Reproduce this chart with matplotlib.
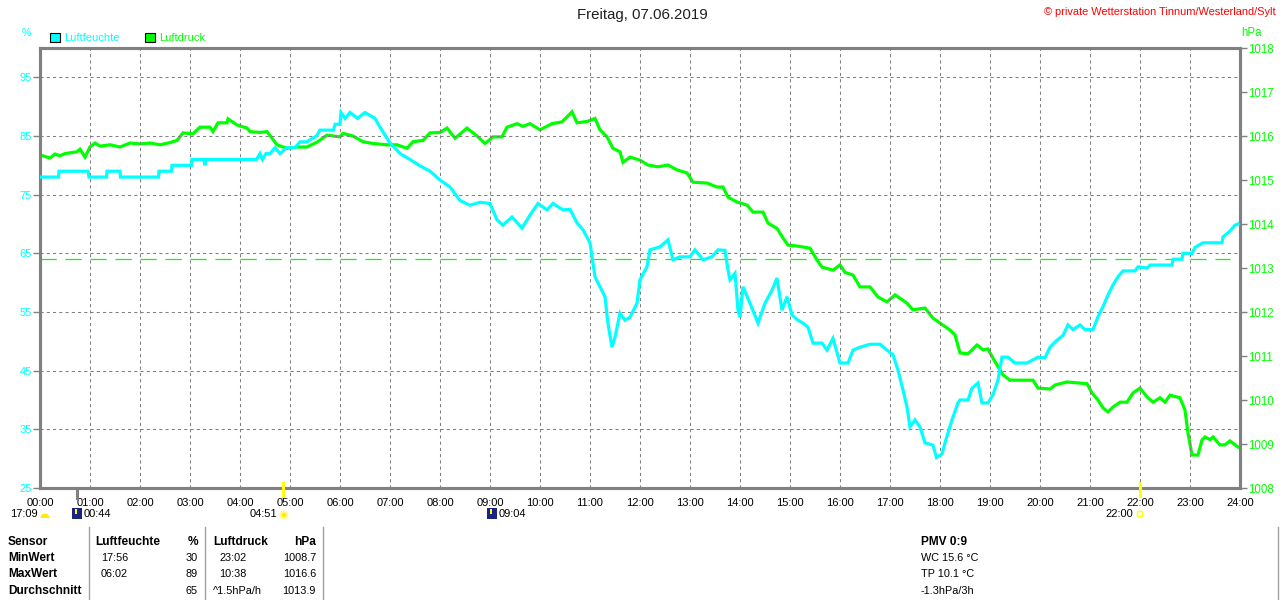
import matplotlib
matplotlib.use("Agg")
import matplotlib.pyplot as plt
from matplotlib.patches import Rectangle, Circle, Wedge
import numpy as np

plt.rcParams['font.family'] = ['Liberation Sans', 'DejaVu Sans']

# ---------------- data ----------------
hum_t = [0.00,0.37,0.38,0.96,0.98,1.33,1.34,1.60,1.61,2.37,2.38,2.63,2.64,3.03,3.04,3.28,3.30,3.32,4.33,4.40,4.45,4.52,4.60,4.70,4.80,4.93,5.10,5.20,5.33,5.53,5.60,5.87,5.90,6.00,
         6.02,6.10,6.20,6.35,6.50,6.70,6.80,7.00,7.20,7.40,7.60,7.80,8.00,8.20,8.40,8.60,8.80,9.00,9.14,9.26,9.44,9.64,9.80,9.96,10.14,10.26,10.46,10.60,10.74,10.86,11.00,11.10,11.20,11.30,11.36,11.44,11.50,11.60,11.70,11.80,11.94,
         12.00,12.14,12.20,12.40,12.56,12.66,12.80,13.00,13.10,13.26,13.44,13.56,13.70,13.76,13.80,13.90,13.96,14.00,14.06,14.20,14.36,14.50,14.64,14.74,14.84,14.94,15.04,15.16,15.26,15.36,15.46,15.64,15.74,15.86,16.00,16.16,16.26,16.40,16.60,16.80,16.94,
         17.06,17.16,17.26,17.34,17.40,17.50,17.60,17.70,17.86,17.93,18.04,18.10,18.24,18.36,18.40,18.56,18.64,18.76,18.84,18.96,19.06,19.16,19.24,19.36,19.50,19.74,19.96,20.10,20.20,20.34,20.46,20.56,20.66,20.80,20.90,21.06,21.16,21.26,21.36,21.46,21.56,21.66,21.90,21.96,
         22.14,22.20,22.64,22.66,22.84,22.86,23.04,23.10,23.26,23.64,23.66,23.80,23.90,23.96]
hum_v = [78,78,79,79,78,78,79,79,78,78,79,79,80,80,81,81,80,81,81,82,81,82,82,83,82,83,83,84,84,85,86,86,87,87,
         89,88,89,88,89,88,86.5,83.8,82,81,79.9,79,77.5,76.3,74,73.2,73.7,73.5,70.7,69.8,71.2,69.3,71.5,73.5,72.4,73.5,72.4,72.5,70.2,69,66.8,61,59.3,57.6,53,49,50.7,54.8,53.6,54.1,56.5,
         60.5,62.7,65.6,66.1,67.3,63.9,64.4,64.4,65.6,63.9,64.4,65.6,65.5,62.2,60.5,61.6,55.3,54.1,59.3,56.5,53.1,56.5,58.7,60.8,55.3,57.6,54.5,53.6,53.1,52.4,49.7,49.7,48.5,50.5,46.3,46.3,48.5,49,49.5,49.5,48.5,
         47.7,45.1,41.7,38.8,35.4,36.6,35.4,32.7,32.3,30.2,30.8,32.7,36.6,39.5,40,40,42,42.9,39.5,39.5,40.9,43.4,47.3,47.3,46.3,46.3,47.3,47.2,49,50.2,51,52.8,52,52.8,52,52,54.2,55.9,57.9,59.6,61,62,62,62.7,
         62.5,63,63,64,64,65,65,66,66.8,66.8,67.8,68.8,69.8,70]

pres_t = [0.00,0.20,0.30,0.40,0.50,0.74,0.80,0.90,1.00,1.10,1.20,1.40,1.60,1.80,2.00,2.20,2.40,2.60,2.74,2.86,3.06,3.20,3.40,3.46,3.56,3.74,3.76,3.94,4.14,4.20,4.40,4.54,4.64,4.74,4.94,5.14,5.34,5.54,5.74,
          6.00,6.06,6.26,6.46,6.66,6.94,7.14,7.34,7.46,7.66,7.80,8.00,8.14,8.30,8.46,8.54,8.74,8.90,9.06,9.24,9.34,9.54,9.66,9.80,10.00,10.24,10.44,10.64,10.74,10.94,11.10,11.20,11.34,11.46,11.60,11.66,11.80,
          12.00,12.16,12.36,12.56,12.74,12.94,13.06,13.34,13.54,13.66,13.76,13.94,14.14,14.26,14.46,14.56,14.74,14.86,14.96,15.14,15.40,15.54,15.64,15.86,16.00,16.10,16.26,16.40,16.60,16.76,16.94,17.10,17.34,17.46,17.70,17.86,
          18.06,18.20,18.30,18.40,18.56,18.74,18.86,18.96,19.06,19.20,19.26,19.40,19.86,19.96,20.20,20.30,20.54,20.74,20.94,21.04,21.16,21.26,21.36,21.46,21.60,21.74,21.86,22.00,22.14,22.26,22.40,22.50,22.60,22.80,22.90,22.96,
          23.04,23.16,23.24,23.30,23.40,23.46,23.60,23.70,23.80,23.96]
pres_v = [1015.57,1015.50,1015.59,1015.55,1015.60,1015.64,1015.70,1015.52,1015.75,1015.84,1015.77,1015.80,1015.75,1015.84,1015.82,1015.84,1015.80,1015.85,1015.90,1016.07,1016.05,1016.20,1016.20,1016.10,1016.30,1016.30,1016.39,1016.25,1016.18,1016.10,1016.08,1016.10,1015.95,1015.80,1015.72,1015.75,1015.75,1015.86,1016.02,
          1015.98,1016.06,1016.00,1015.87,1015.83,1015.80,1015.80,1015.72,1015.87,1015.90,1016.07,1016.08,1016.18,1015.95,1016.10,1016.18,1016.00,1015.83,1015.98,1015.98,1016.20,1016.28,1016.22,1016.28,1016.14,1016.28,1016.32,1016.55,1016.30,1016.33,1016.40,1016.14,1015.98,1015.72,1015.64,1015.40,1015.52,
          1015.45,1015.34,1015.30,1015.34,1015.23,1015.16,1014.95,1014.93,1014.84,1014.84,1014.61,1014.50,1014.43,1014.27,1014.27,1014.02,1013.90,1013.68,1013.52,1013.50,1013.45,1013.18,1013.02,1012.95,1013.07,1012.90,1012.84,1012.57,1012.57,1012.34,1012.23,1012.39,1012.20,1012.05,1012.09,1011.86,
          1011.70,1011.59,1011.48,1011.07,1011.05,1011.25,1011.14,1011.16,1010.95,1010.68,1010.57,1010.45,1010.45,1010.27,1010.25,1010.34,1010.41,1010.39,1010.37,1010.16,1010.00,1009.82,1009.73,1009.84,1009.95,1009.95,1010.16,1010.27,1010.07,1009.95,1010.05,1009.95,1010.11,1010.05,1009.77,1009.25,
          1008.75,1008.75,1009.09,1009.16,1009.10,1009.16,1008.98,1008.98,1009.07,1008.93]

pres_ref = 1013.2
hum_ticks = [25, 35, 45, 55, 65, 75, 85, 95]
pres_ticks = [1008, 1009, 1010, 1011, 1012, 1013, 1014, 1015, 1016, 1017, 1018]
hour_ticks = list(range(25))
hour_labels = [f"{h:02d}:00" for h in hour_ticks]

moon_mark = 44/60          # 00:44
sun_marks = [4 + 51/60, 22.0]   # 04:51, 22:00

title = "Freitag, 07.06.2019"
credit = "© private Wetterstation Tinnum/Westerland/Sylt"

tab_rows = ["Sensor", "MinWert", "MaxWert", "Durchschnitt"]
hum_col_t = ["", "17:56", "06:02", ""]
hum_col_v = ["", "30", "89", "65"]
pres_col_t = ["", "23:02", "10:38", "^1.5hPa/h"]
pres_col_v = ["", "1008.7", "1016.6", "1013.9"]
extra = ["PMV 0:9", "WC 15.6 °C", "TP 10.1 °C", "-1.3hPa/3h"]

CYAN = '#00FFFF'
GREEN = '#00FF00'
GRAY = '#808080'

W, H = 1280, 600
fig = plt.figure(figsize=(12.8, 6.0), dpi=100)
fig.patch.set_facecolor('white')

def fx(x): return x / W
def fy(y): return 1 - y / H

ax = fig.add_axes([fx(40), fy(488), 1200 / W, 440 / H])
ax2 = ax.twinx()
ax.set_zorder(3)
ax.patch.set_visible(False)
ax2.set_zorder(2)

ax.set_xlim(0, 24)
ax.set_ylim(25, 100)
ax2.set_ylim(1008, 1018)

# grid
for h in hour_ticks[1:-1]:
    ax.axvline(h, color=GRAY, lw=0.75, ls=(0, (3, 3)), zorder=1)
for v in hum_ticks[1:]:
    ax.axhline(v, color=GRAY, lw=0.75, ls=(0, (3, 3)), zorder=1)

ax2.plot([0, 23.8], [pres_ref, pres_ref], color=GREEN, lw=0.9, ls=(0, (13, 7)), zorder=1)
ax2.plot(pres_t, pres_v, color=GREEN, lw=2.3, solid_joinstyle='miter', zorder=3)
ax.plot(hum_t, hum_v, color=CYAN, lw=2.3, solid_joinstyle='miter', zorder=4)

for a in (ax, ax2):
    for s in a.spines.values():
        s.set_color(GRAY)
        s.set_linewidth(2.2)

ax.set_yticks(hum_ticks)
ax.set_yticklabels([str(v) for v in hum_ticks])
ax.tick_params(axis='y', colors=GRAY, labelcolor=CYAN, labelsize=8, length=5, width=1, pad=1)
ax2.set_yticks(pres_ticks)
ax2.set_yticklabels([str(v) for v in pres_ticks])
ax2.tick_params(axis='y', colors=GRAY, labelcolor=GREEN, labelsize=8.3, length=5, width=1, pad=1)
ax.set_xticks(hour_ticks)
ax.set_xticklabels(hour_labels)
ax.tick_params(axis='x', length=0, labelsize=8, labelcolor='black', pad=7)

# sun/moon markers under the axis
xt = ax.get_xaxis_transform()
ax.plot([moon_mark, moon_mark], [0.0, -0.022], color=GRAY, lw=2.2, transform=xt, clip_on=False, zorder=5)
for m in sun_marks:
    ax.plot([m, m], [0.012, -0.018], color='#FFFF00', lw=2.2, transform=xt, clip_on=False, zorder=5)

# overlay for texts in pixel coordinates
ov = fig.add_axes([0, 0, 1, 1], zorder=10)
ov.set_xlim(0, W)
ov.set_ylim(H, 0)
ov.axis('off')
ov.patch.set_visible(False)

ov.text(642, 15, title, fontsize=10.8, ha='center', va='center', color='#202020')
ov.text(1276, 12, credit, fontsize=7.9, ha='right', va='center', color='#FF0000')
ov.text(22, 33, "%", fontsize=7.5, ha='left', va='center', color=CYAN)
ov.text(1241, 33, "hPa", fontsize=8.3, ha='left', va='center', color=GREEN)
ov.add_patch(Rectangle((50, 33), 10, 9, facecolor=CYAN, edgecolor='black', lw=0.8))
ov.text(64, 38, "Luftfeuchte", fontsize=8, ha='left', va='center', color=CYAN)
ov.add_patch(Rectangle((145, 33), 10, 9, facecolor=GREEN, edgecolor='black', lw=0.8))
ov.text(159, 38, "Luftdruck", fontsize=8, ha='left', va='center', color=GREEN)

# second line of time annotations
ov.text(38, 514, "17:09", fontsize=8, ha='right', va='center')
ov.add_patch(Wedge((45, 518), 4.5, 180, 360, facecolor='#FFEE00', edgecolor='none'))
ov.add_patch(Rectangle((72, 508), 10, 11, facecolor='#1A237E', edgecolor='none'))
ov.add_patch(Rectangle((75, 509), 2, 5, facecolor='#FFFF00', edgecolor='none'))
ov.text(84, 514, "00:44", fontsize=8, ha='left', va='center')
ov.text(277, 514, "04:51", fontsize=8, ha='right', va='center')
ov.add_patch(Circle((284, 515), 3.5, facecolor='#FFEE00', edgecolor='#FFF8A0', lw=1.5))
ov.add_patch(Rectangle((487, 508), 10, 11, facecolor='#1A237E', edgecolor='none'))
ov.add_patch(Rectangle((490, 509), 2, 5, facecolor='#FFFF00', edgecolor='none'))
ov.text(499, 514, "09:04", fontsize=8, ha='left', va='center')
ov.text(1133, 514, "22:00", fontsize=8, ha='right', va='center')
ov.add_patch(Rectangle((1137, 511), 5, 5, facecolor='none', edgecolor='#FFFF00', lw=1))

# table
for xl in (89, 205, 323, 1278):
    ov.plot([xl, xl], [527, 600], color='#A0A0A0', lw=1)
rows_y = [542, 558, 574, 591]
BF = 8.6
NF = 7.8
for i, y in enumerate(rows_y):
    ov.text(8, y, tab_rows[i], fontsize=BF, fontweight='bold', ha='left', va='center')
    if i == 0:
        ov.text(95, y, "Luftfeuchte", fontsize=BF, fontweight='bold', ha='left', va='center')
        ov.text(198, y, "%", fontsize=BF, fontweight='bold', ha='right', va='center')
        ov.text(213, y, "Luftdruck", fontsize=BF, fontweight='bold', ha='left', va='center')
        ov.text(316, y, "hPa", fontsize=BF, fontweight='bold', ha='right', va='center')
        ov.text(921, y, extra[i], fontsize=BF, fontweight='bold', ha='left', va='center')
    else:
        ov.text(101, y, hum_col_t[i], fontsize=NF, ha='left', va='center')
        ov.text(198, y, hum_col_v[i], fontsize=NF, ha='right', va='center')
        ov.text(213 if pres_col_t[i].startswith('^') else 219, y, pres_col_t[i], fontsize=NF, ha='left', va='center')
        ov.text(316, y, pres_col_v[i], fontsize=NF, ha='right', va='center')
        ov.text(921, y, extra[i], fontsize=NF, ha='left', va='center')

fig.savefig("out.png", dpi=100)
